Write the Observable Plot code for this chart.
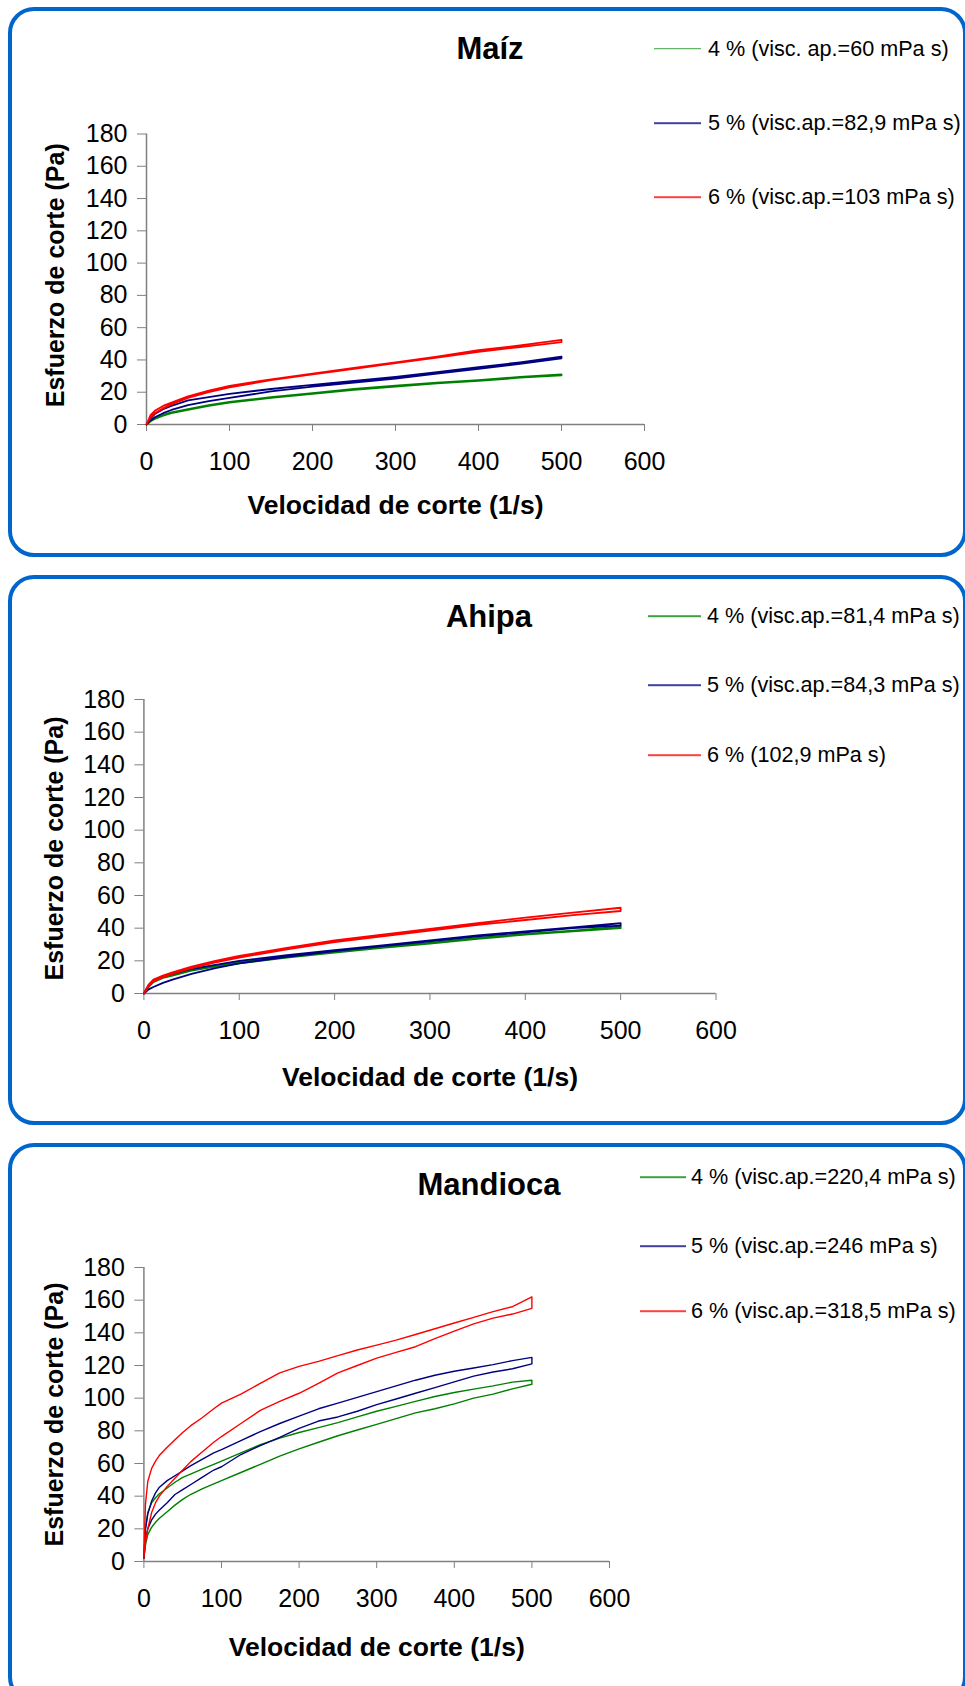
<!DOCTYPE html>
<html>
<head>
<meta charset="utf-8">
<script src="https://cdn.jsdelivr.net/npm/d3@7"></script>
<script src="https://cdn.jsdelivr.net/npm/@observablehq/plot@0.6"></script>
<style>
html, body { margin: 0; padding: 0; background: #fff; }
#page { position: relative; width: 965px; height: 1686px; overflow: hidden; font-family: "Liberation Sans", Arial, sans-serif; color: #000; }
.box { position: absolute; border: 4px solid #0066CC; border-radius: 26px; box-sizing: border-box; }
.title { position: absolute; font-weight: bold; font-size: 31px; line-height: 1; white-space: nowrap; transform: translate(-50%, -50%); }
.leg { position: absolute; display: flex; align-items: center; font-size: 21.6px; line-height: 1; white-space: nowrap; transform: translateY(-50%); }
.sw { display: inline-block; height: 1.5px; opacity: 0.75; }
.pw { position: absolute; left: 0; }
.pw svg { display: block; max-width: none; }
</style>
</head>
<body>
<div id="page"></div>
<script>
// ---------- data ----------
const xTicks = [0, 100, 200, 300, 400, 500, 600];
const yTicks = [0, 20, 40, 60, 80, 100, 120, 140, 160, 180];
const seriesNames = ["4 %", "5 %", "6 %"];
const seriesColors = ["#008000", "#000080", "#FF0000"];
const panelTitles = ["Maíz", "Ahipa", "Mandioca"];
const xLabel = "Velocidad de corte (1/s)";
const yLabel = "Esfuerzo de corte (Pa)";

// Maíz
const maizRate   = [0, 5, 10, 20, 30, 50, 75, 100, 150, 200, 250, 300, 350, 400, 450, 500];
const maiz4Up    = [0, 2.5, 4, 6, 7.5, 9.5, 12, 14, 17, 19.5, 22, 24, 26, 27.5, 29.5, 31];
const maiz4Down  = [0, 2, 3.5, 5.5, 7, 9, 11.5, 13.5, 16.5, 19, 21.5, 23.5, 25.5, 27, 29, 30.5];
const maiz5Up    = [0, 4, 6.5, 9.5, 11.5, 15, 17, 19, 22, 24.5, 27, 29.5, 32.5, 35.5, 38.5, 42];
const maiz5Down  = [0, 2.5, 4.5, 7, 9, 12, 14.5, 16.5, 20.5, 23.5, 26, 28.5, 31.5, 34.5, 37.5, 41];
const maiz6Up    = [0, 6, 8.5, 11.5, 13.5, 17.5, 21, 24, 28, 31.5, 35, 38.5, 42, 46, 49, 52.5];
const maiz6Down  = [0, 4.5, 7, 10, 12.5, 16.5, 20, 23, 27.5, 31, 34.5, 38, 41.5, 45, 48, 51];
const maizLegend = ["4 % (visc. ap.=60 mPa s)", "5 % (visc.ap.=82,9 mPa s)", "6 % (visc.ap.=103 mPa s)"];

// Ahipa
const ahipaRate   = [0, 5, 10, 20, 30, 50, 75, 100, 150, 200, 250, 300, 350, 400, 450, 500];
const ahipa4Up    = [0, 5, 8, 10.5, 12, 14.5, 17, 19.5, 22.5, 25.5, 28.5, 31, 34, 36.5, 38.5, 41];
const ahipa4Down  = [0, 4, 7, 9.5, 11, 14, 16.5, 18.5, 22, 25, 28, 30.5, 33.5, 36, 38, 40];
const ahipa5Up    = [0, 5, 8, 10.5, 12, 15, 17.5, 20, 23.5, 26.5, 29.5, 32.5, 35.5, 38, 40.5, 43];
const ahipa5Down  = [0, 2.5, 4, 6.5, 8.5, 12, 15.5, 18.5, 22.5, 26, 29, 32, 35, 37.5, 40, 41.5];
const ahipa6Up    = [0, 5.5, 8.5, 11, 13, 16.5, 20, 23, 28, 32.5, 36, 39.5, 43, 46.5, 49.5, 52.5];
const ahipa6Down  = [0, 4.5, 7.5, 10, 12, 15.5, 19, 22, 27, 31.5, 35, 38.5, 42, 45, 48, 50.5];
const ahipaLegend = ["4 % (visc.ap.=81,4 mPa s)", "5 % (visc.ap.=84,3 mPa s)", "6 % (102,9 mPa s)"];

// Mandioca
const mandRate   = [0, 2, 5, 10, 15, 20, 30, 40, 50, 60, 75, 90, 100, 125, 150, 175, 200, 225, 250, 275, 300, 325, 350, 375, 400, 425, 450, 475, 500];
const mand4Up    = [2, 20, 30, 36, 39, 41.5, 45, 48.5, 51.5, 53.5, 56.5, 59.5, 61.5, 66.5, 71.5, 75.5, 79, 82, 85, 88.5, 92, 95, 98, 101, 103.5, 105.5, 107.5, 109.8, 111];
const mand4Down  = [2, 10, 16.5, 21, 24, 26.5, 30.5, 34.5, 38, 41, 44.5, 47.5, 49.5, 54.5, 59.5, 64.5, 69, 73, 77, 80.5, 84, 87.5, 91, 93.5, 96.5, 100, 102.5, 105.7, 108.5];
const mand5Up    = [2, 20, 29, 37, 42, 45.5, 49.5, 52.5, 55.5, 58.5, 62.5, 66.5, 68.5, 74, 79.5, 84.5, 89, 93.5, 97, 100.5, 104, 107.5, 111, 114, 116.5, 118.5, 120.5, 123, 125];
const mand5Down  = [2, 14, 20, 25.5, 29, 31.5, 36, 41, 44, 47, 51.5, 56, 58, 65.5, 71, 76, 81.5, 86, 88.5, 92, 96, 99.5, 103, 106.5, 110, 113.5, 116, 118, 121];
const mand6Up    = [2, 35, 49, 57, 61.5, 65, 70, 74.5, 79, 83, 88, 93.5, 97, 102.5, 109, 115.5, 119.5, 122.5, 126, 129.5, 132.5, 135.5, 139, 142.5, 146, 149.5, 153, 156, 162];
const mand6Down  = [2, 12, 20, 30, 36, 40, 46, 51, 56, 61, 67, 73, 76.5, 84.5, 92.5, 98, 103, 109, 115.5, 120, 124.5, 128, 131.5, 136.5, 141, 145.5, 149, 151.5, 155];
const mandLegend = ["4 % (visc.ap.=220,4 mPa s)", "5 % (visc.ap.=246 mPa s)", "6 % (visc.ap.=318,5 mPa s)"];

// ---------- layout ----------
const panels = [
  {
    box: {left: 8, top: 7, width: 959, height: 549.5},
    svgTop: 0, width: 700, height: 560, mL: 146, mR: 56, mT: 133.5, mB: 136,
    rate: maizRate, series: [[maiz4Up, maiz4Down], [maiz5Up, maiz5Down], [maiz6Up, maiz6Down]],
    legend: maizLegend, title: panelTitles[0], titleX: 490, titleY: 48,
    legX0: 654, legX1: 701, legT: 708, legY: [48.5, 123, 197],
    xLabDy: 81, yLabDx: -91, yLabDy: -4, sw: 1.8
  },
  {
    box: {left: 8, top: 575, width: 959, height: 550},
    svgTop: 567, width: 760, height: 560, mL: 143.4, mR: 44.5, mT: 132, mB: 134,
    rate: ahipaRate, series: [[ahipa4Up, ahipa4Down], [ahipa5Up, ahipa5Down], [ahipa6Up, ahipa6Down]],
    legend: ahipaLegend, title: panelTitles[1], titleX: 489, titleY: 616,
    legX0: 648, legX1: 701, legT: 707, legY: [616, 685, 755],
    xLabDy: 84, yLabDx: -89, yLabDy: 2, sw: 1.8
  },
  {
    box: {left: 8, top: 1143, width: 959, height: 560},
    svgTop: 1135, width: 700, height: 560, mL: 143.4, mR: 91, mT: 132, mB: 134,
    rate: mandRate, series: [[mand4Up, mand4Down], [mand5Up, mand5Down], [mand6Up, mand6Down]],
    legend: mandLegend, title: panelTitles[2], titleX: 489, titleY: 1183.5,
    legX0: 640, legX1: 686, legT: 691, legY: [1177, 1246, 1311],
    xLabDy: 86, yLabDx: -89, yLabDy: 0, sw: 1.4
  }
];

const page = document.getElementById("page");

function makePlot(p) {
  const rows = [];
  p.series.forEach(([up, down], i) => {
    up.forEach((y, j) => rows.push({x: p.rate[j], y, k: seriesNames[i]}));
    for (let j = down.length - 1; j >= 0; j--) rows.push({x: p.rate[j], y: down[j], k: seriesNames[i]});
  });
  return Plot.plot({
    width: p.width, height: p.height,
    marginLeft: p.mL, marginRight: p.mR, marginTop: p.mT, marginBottom: p.mB,
    style: {fontFamily: '"Liberation Sans", Arial, sans-serif', fontSize: "25px", background: "transparent", color: "#000", overflow: "visible"},
    x: {domain: [0, 600]},
    y: {domain: [0, 180]},
    color: {domain: seriesNames, range: seriesColors},
    marks: [
      Plot.axisX({ticks: xTicks, tickSize: 7, tickPadding: 21, stroke: "#808080", fill: "#000", label: null, fontSize: 25}),
      Plot.axisY({ticks: yTicks, tickSize: 9, tickPadding: 10, stroke: "#808080", fill: "#000", label: null, fontSize: 25}),
      Plot.ruleY([0], {stroke: "#808080", strokeWidth: 1.5}),
      Plot.ruleX([0], {stroke: "#808080", strokeWidth: 1.5}),
      Plot.line(rows, {x: "x", y: "y", z: "k", stroke: "k", strokeWidth: p.sw}),
      Plot.text([xLabel], {text: d => d, frameAnchor: "bottom", textAnchor: "middle", lineAnchor: "middle", dy: p.xLabDy, fontWeight: "bold", fontSize: 26.5, fill: "#000"}),
      Plot.text([yLabel], {text: d => d, frameAnchor: "left", textAnchor: "middle", lineAnchor: "middle", rotate: -90, dx: p.yLabDx, dy: p.yLabDy, fontWeight: "bold", fontSize: 25, fill: "#000"})
    ]
  });
}

panels.forEach(p => {
  const b = document.createElement("div");
  b.className = "box";
  Object.assign(b.style, {left: p.box.left + "px", top: p.box.top + "px", width: p.box.width + "px", height: p.box.height + "px"});
  page.appendChild(b);
});

panels.forEach(p => {
  const w = document.createElement("div");
  w.className = "pw";
  w.style.top = p.svgTop + "px";
  w.appendChild(makePlot(p));
  page.appendChild(w);

  const t = document.createElement("div");
  t.className = "title";
  t.textContent = p.title;
  t.style.left = p.titleX + "px";
  t.style.top = p.titleY + "px";
  page.appendChild(t);

  p.legend.forEach((txt, i) => {
    const r = document.createElement("div");
    r.className = "leg";
    r.style.left = p.legX0 + "px";
    r.style.top = p.legY[i] + "px";
    const s = document.createElement("span");
    s.className = "sw";
    s.style.width = (p.legX1 - p.legX0) + "px";
    s.style.background = seriesColors[i];
    s.style.marginRight = (p.legT - p.legX1) + "px";
    const l = document.createElement("span");
    l.textContent = txt;
    r.appendChild(s);
    r.appendChild(l);
    page.appendChild(r);
  });
});
</script>
</body>
</html>
